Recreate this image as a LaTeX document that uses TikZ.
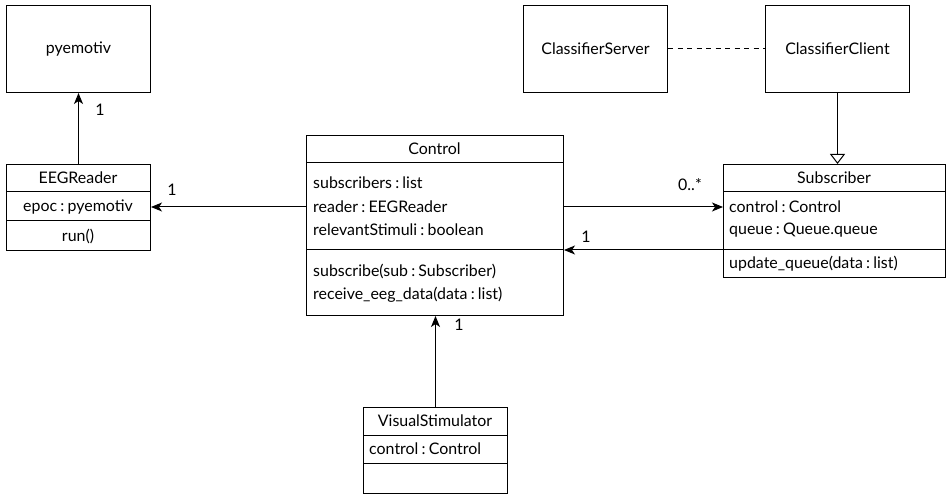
\documentclass[tikz,border=0pt]{standalone}
\usepackage{fontspec}
\setmainfont{Lato}
\usetikzlibrary{arrows.meta}
\newcommand{\tcol}{\hspace{0.2em}:\hspace{0.2em}}
\tikzset{
  cls/.style={draw, line width=1bp, inner sep=0pt, anchor=north west},
  lbl/.style={inner sep=0pt, font=\fontsize{16}{18}\selectfont},
  attr/.style={lbl, anchor=west},
  mult/.style={lbl},
  assoc/.style={line width=1bp, -{Stealth[length=11bp, width=9bp, inset=3bp]}},
  gen/.style={line width=1bp, -{Triangle[open, length=10bp, width=15bp, fill=white]}},
  dep/.style={line width=1bp, dashed, dash pattern=on 5bp off 4.5bp},
}
\begin{document}
\begin{tikzpicture}[x=1bp,y=-1bp]
\useasboundingbox (0,0) rectangle (947,494);
% pyemotiv
\node[cls, minimum width=144bp, minimum height=87bp] (pye) at (6,5) {};
\node[lbl] (pyet) at (pye.center) {pyemotiv};
% EEGReader
\node[cls, minimum width=144bp, minimum height=86bp] (eeg) at (6,164) {};
\draw[line width=1bp] (6,192) -- (150,192) (6,221) -- (150,221);
\node[lbl] (eegn) at (78,178) {EEGReader};
\node[lbl] (epoc) at (78,207) {epoc\tcol pyemotiv};
\node[lbl] (run) at (78,236) {run()};
% Control
\node[cls, minimum width=257bp, minimum height=180bp] (ctrl) at (306,135) {};
\draw[line width=1bp] (306,163) -- (563,163) (306,250) -- (563,250);
\node[lbl] (ctrln) at (434.5,149) {Control};
\node[attr] (subs) at (313,183) {subscribers\tcol list};
\node[attr] (reader) at (313,207) {reader\tcol EEGReader};
\node[attr] (relst) at (313,230) {relevantStimuli\tcol boolean};
\node[attr] (subscr) at (313,271) {subscribe(sub\tcol Subscriber)};
\node[attr] (recv) at (313,295) {receive\_eeg\_data(data\tcol list)};
% ClassifierServer / Client
\node[cls, minimum width=144bp, minimum height=87bp] (cserv) at (523,5) {};
\node[lbl] (cservt) at (cserv.center) {ClassifierServer};
\node[cls, minimum width=144bp, minimum height=87bp] (ccli) at (765,5) {};
\node[lbl] (cclit) at (ccli.center) {ClassifierClient};
% Subscriber
\node[cls, minimum width=222bp, minimum height=113bp] (sub) at (723,164) {};
\draw[line width=1bp] (723,192) -- (945,192) (723,250) -- (945,250);
\node[lbl] (subn) at (834,178) {Subscriber};
\node[attr] (subctl) at (729,207) {control\tcol Control};
\node[attr] (subq) at (729,230) {queue\tcol Queue.queue};
\node[attr] (subup) at (729,264) {update\_queue(data\tcol list)};
\coordinate (subdiv) at (723,250);
% VisualStimulator
\node[cls, minimum width=144bp, minimum height=86bp] (vs) at (363,407) {};
\draw[line width=1bp] (363,435) -- (507,435) (363,463) -- (507,463);
\node[lbl] (vsn) at (435,421) {VisualStimulator};
\node[attr] (vsctl) at (369,449) {control\tcol Control};
% connectors
\draw[assoc] (eeg.north) -- (pye.south);
\node[mult] at (100,110) {1};
\draw[assoc] (reader.west -| ctrl.west) -- (epoc.east -| eeg.east);
\node[mult] at (172,190) {1};
\draw[assoc] (reader.west -| ctrl.east) -- (subctl.west -| sub.west);
\node[mult] at (690,185) {0..*};
\draw[assoc] (subdiv) -- (subdiv -| ctrl.east);
\node[mult] at (586,237) {1};
\draw[assoc] (vs.north) -- (vs.north |- ctrl.south);
\node[mult] at (459,325) {1};
\draw[gen] (ccli.south) -- (ccli.south |- sub.north);
\draw[dep] (cserv.east) -- (ccli.west);
\end{tikzpicture}
\end{document}
